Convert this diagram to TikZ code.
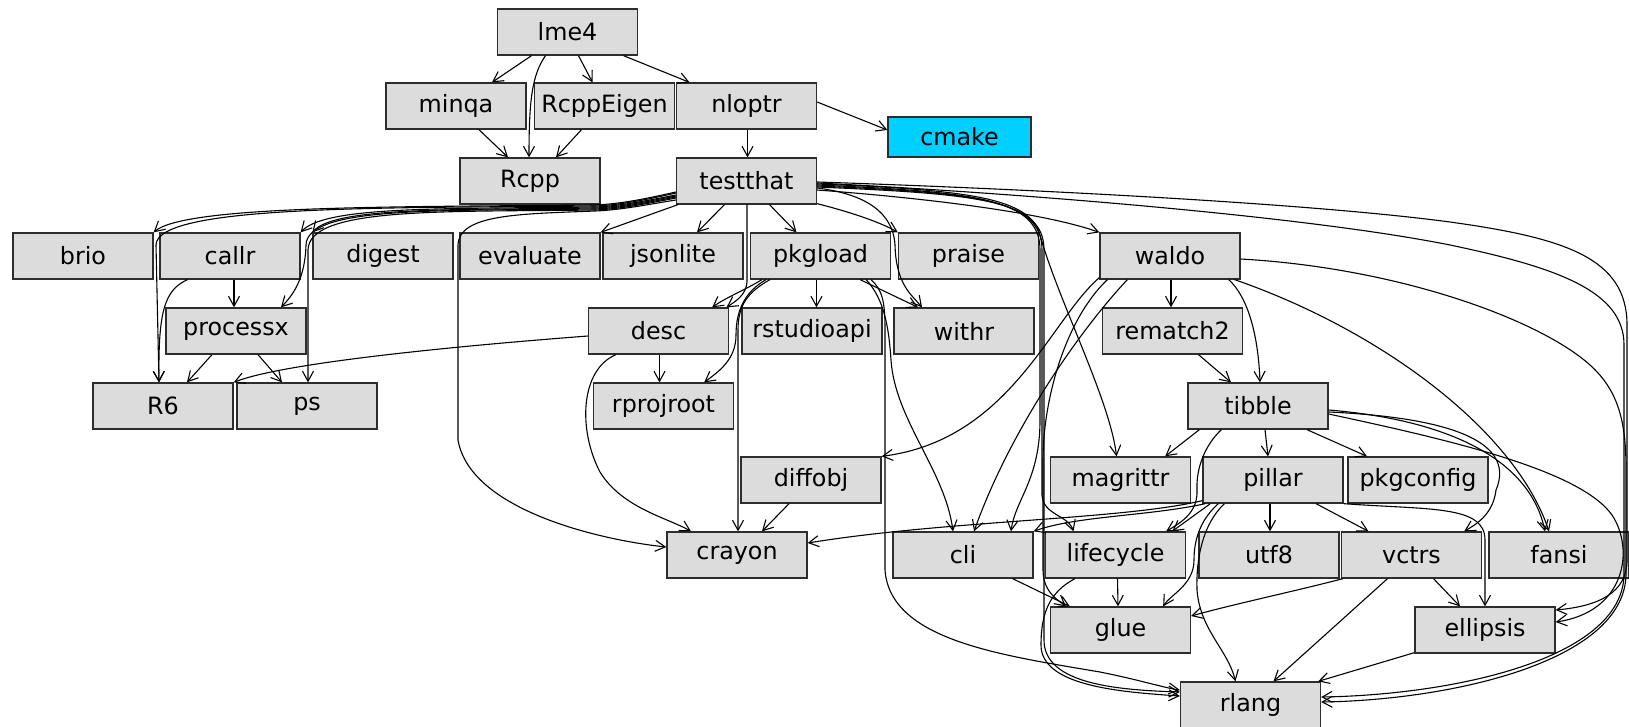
\documentclass[tikz,border=0pt]{standalone}
\usepackage{fontspec}
\setmainfont{DejaVu Sans}
\usetikzlibrary{arrows.meta,calc}
\definecolor{boxgray}{RGB}{220,220,220}
\definecolor{boxline}{RGB}{45,45,45}
\definecolor{cmakecyan}{RGB}{0,208,255}
\tikzset{
  pkg/.style={draw=boxline, fill=boxgray, line width=1.3pt, minimum width=140pt, minimum height=46pt, inner sep=0pt, font=\fontsize{23.8}{28}\selectfont},
  dep/.style={draw=black, line width=1.1pt, -{Straight Barb[length=10pt,width=11pt]}}
}
\begin{document}
\begin{tikzpicture}[x=1pt,y=-1pt]
\useasboundingbox (0,0) rectangle (1629,726);
% nodes
\node[pkg] (lme4) at (567.5,32) {lme4};
\node[pkg] (minqa) at (456,106) {minqa};
\node[pkg] (RcppEigen) at (604.5,106) {RcppEigen};
\node[pkg] (nloptr) at (746.5,106) {nloptr};
\node[pkg, fill=cmakecyan, minimum height=40pt, minimum width=143pt] (cmake) at (959.5,137) {cmake};
\node[pkg] (Rcpp) at (530,181) {Rcpp};
\node[pkg] (testthat) at (746.5,181) {testthat};
\node[pkg] (brio) at (83,256) {brio};
\node[pkg] (callr) at (230,256) {callr};
\node[pkg] (digest) at (383,256) {digest};
\node[pkg] (evaluate) at (530,256) {evaluate};
\node[pkg] (jsonlite) at (673,256) {jsonlite};
\node[pkg] (pkgload) at (820.5,256) {pkgload};
\node[pkg] (praise) at (968.5,256) {praise};
\node[pkg] (waldo) at (1170,256) {waldo};
\node[pkg] (processx) at (236,331) {processx};
\node[pkg] (desc) at (658.5,331) {desc};
\node[pkg] (rstudioapi) at (812,331) {rstudioapi};
\node[pkg] (withr) at (964,331) {withr};
\node[pkg] (rematch2) at (1172.5,331) {rematch2};
\node[pkg] (R6) at (163,406) {R6};
\node[pkg] (ps) at (307,406) {ps};
\node[pkg] (rprojroot) at (663.5,406) {rprojroot};
\node[pkg] (tibble) at (1258,406) {tibble};
\node[pkg] (diffobj) at (811,480) {diffobj};
\node[pkg] (magrittr) at (1120.5,480) {magrittr};
\node[pkg] (pillar) at (1273,480) {pillar};
\node[pkg] (pkgconfig) at (1418,480) {pkgconfig};
\node[pkg] (crayon) at (737,555) {crayon};
\node[pkg] (cli) at (963,555) {cli};
\node[pkg] (lifecycle) at (1115.5,555) {lifecycle};
\node[pkg] (utf8) at (1269,555) {utf8};
\node[pkg] (vctrs) at (1411.5,555) {vctrs};
\node[pkg] (fansi) at (1559,555) {fansi};
\node[pkg] (glue) at (1120.5,630) {glue};
\node[pkg] (ellipsis) at (1485,630) {ellipsis};
\node[pkg] (rlang) at (1250.5,705) {rlang};

% lme4 group
\draw[dep] ($(lme4.south)+(-36,0)$) -- ($(minqa.north)+(36,0)$);
\draw[dep] ($(lme4.south)+(11,0)$) -- ($(RcppEigen.north)+(-12,0)$);
\draw[dep] ($(lme4.south)+(56,0)$) -- ($(nloptr.north)+(-57,0)$);
\draw[dep] ($(lme4.south)+(-22,0)$) .. controls (532,75) and (529,100) .. ($(Rcpp.north)+(-1,0)$);
\draw[dep] ($(minqa.south)+(23,0)$) -- ($(Rcpp.north)+(-22,0)$);
\draw[dep] ($(RcppEigen.south)+(-23,0)$) -- ($(Rcpp.north)+(26,0)$);
\draw[dep] ($(nloptr.south)+(1,0)$) -- ($(testthat.north)+(1,0)$);
\draw[dep] ($(nloptr.east)+(0,-4)$) -- ($(cmake.west)+(0,-7)$);

% testthat, left side
\draw[dep] ($(testthat.west)+(0,11)$) .. controls (645,199) and (620,204) .. (595,205) .. controls (400,207) and (185,205) .. (brio.north east);
\draw[dep] ($(testthat.west)+(0,12)$) .. controls (645,200) and (620,205) .. (595,206) .. controls (380,208) and (157,205) .. (156,245) -- ($(R6.north)+(-4,0)$);
\draw[dep] ($(testthat.west)+(0,14)$) .. controls (645,201) and (620,206) .. (595,207) .. controls (440,209) and (325,206) .. (callr.north east);
\draw[dep] ($(testthat.west)+(0,15)$) .. controls (645,202) and (620,207) .. (595,208) .. controls (450,210) and (335,207) .. (digest.north west);
\draw[dep] ($(testthat.west)+(0,16)$) .. controls (645,203) and (620,208) .. (595,209) .. controls (440,211) and (307,206) .. (306,245) .. controls (305,280) and (292,296) .. ($(processx.north)+(45,0)$);
\draw[dep] ($(testthat.west)+(0,17)$) .. controls (645,204) and (620,209) .. (595,210) .. controls (440,212) and (309,207) .. (308,250) -- ($(ps.north)+(1,0)$);
\draw[dep] ($(testthat.west)+(0,19)$) .. controls (645,205) and (620,210) .. (595,211) .. controls (520,214) and (459,214) .. (458,245) -- (458,440) .. controls (470,510) and (600,540) .. ($(crayon.west)+(0,-8)$);
\draw[dep] ($(testthat.south west)+(2,0)$) -- (evaluate.north east);
\draw[dep] ($(testthat.south)+(-22,0)$) -- ($(jsonlite.north)+(24,0)$);
\draw[dep] ($(testthat.south)+(23,0)$) -- ($(pkgload.north)+(-24,0)$);
\draw[dep] ($(testthat.south)+(0.5,0)$) -- (747,282) .. controls (746,295) and (736,301) .. ($(desc.north)+(68,0)$);
% testthat, right side
\draw[dep] ($(testthat.south east)+(0,-1)$) .. controls (850,212) and (880,222) .. (praise.north west);
\draw[dep] ($(testthat.east)+(0,7)$) .. controls (865,194) and (893,212) .. (895,245) .. controls (896,285) and (912,295) .. ($(withr.north)+(-42,0)$);
\draw[dep] ($(testthat.east)+(0,9)$) .. controls (950,200) and (1050,215) .. (waldo.north west);
\draw[dep] ($(testthat.east)+(0,3)$) .. controls (970,190) and (1030,198) .. (1040,235) .. controls (1058,300) and (1110,400) .. ($(magrittr.north)+(-4,0)$);
\draw[dep] ($(testthat.east)+(0,4)$) .. controls (975,192) and (1040,198) .. (1040,250) -- (1040,420) .. controls (1040,480) and (1015,500) .. ($(cli.north)+(48,0)$);
\draw[dep] ($(testthat.east)+(0,5)$) .. controls (978,193) and (1042,199) .. (1042,250) -- (1042,495) .. controls (1043,515) and (1068,515) .. ($(lifecycle.north)+(-42,0)$);
\draw[dep] ($(testthat.east)+(0,6)$) .. controls (981,194) and (1044,200) .. (1044,250) -- (1044,640) .. controls (1044,685) and (1120,690) .. ($(rlang.west)+(0,-13)$);
\draw[dep] ($(testthat.east)+(0,1)$) .. controls (1000,188) and (1300,202) .. (1450,222) .. controls (1565,238) and (1627,258) .. (1627,325) -- (1627,560) .. controls (1627,592) and (1600,606) .. ($(ellipsis.east)+(0,-20)$);
\draw[dep] ($(testthat.east)+(0,2)$) .. controls (1000,192) and (1300,215) .. (1450,245) .. controls (1560,268) and (1624,292) .. (1624,345) -- (1624,575) .. controls (1622,660) and (1450,695) .. ($(rlang.east)+(0,-8)$);

% callr, processx
\draw[dep] ($(callr.south)+(4,0)$) -- ($(processx.north)+(-2,0)$);
\draw[dep] ($(callr.south west)+(28,0)$) .. controls (165,290) and (158,310) .. ($(R6.north)+(-4,0)$);
\draw[dep] ($(processx.south)+(-24,0)$) -- ($(R6.north)+(24,0)$);
\draw[dep] ($(processx.south)+(22,0)$) -- ($(ps.north)+(-25,0)$);

% desc
\draw[dep] ($(desc.west)+(0,5)$) .. controls (470,345) and (285,362) .. (R6.north east);
\draw[dep] ($(desc.south)+(1,0)$) -- ($(rprojroot.north)+(-4,0)$);
\draw[dep] ($(desc.south west)+(28,0)$) .. controls (580,370) and (578,430) .. (600,472) .. controls (622,508) and (668,518) .. ($(crayon.north)+(-46,0)$);

% pkgload
\draw[dep] ($(pkgload.south west)+(12,0)$) .. controls (745,290) and (725,298) .. ($(desc.north east)+(-17,0)$);
\draw[dep] ($(pkgload.south west)+(16,0)$) .. controls (745,292) and (736,310) .. (736,335) .. controls (736,360) and (718,372) .. ($(rprojroot.north east)+(-30,0)$);
\draw[dep] ($(pkgload.south west)+(20,0)$) .. controls (748,292) and (738,305) .. (738,330) -- ($(crayon.north)+(1,0)$);
\draw[dep] ($(pkgload.south)+(-4,0)$) -- ($(rstudioapi.north)+(4.5,0)$);
\draw[dep] ($(pkgload.south east)+(-31,0)$) -- ($(withr.north)+(-46,0)$);
\draw[dep] ($(pkgload.south east)+(-25,0)$) .. controls (885,300) and (889,330) .. (891,360) .. controls (895,420) and (945,470) .. ($(cli.north)+(-10,0)$);
\draw[dep] ($(pkgload.south east)+(-20,0)$) .. controls (882,290) and (885,300) .. (885,330) -- (885,570) .. controls (890,640) and (1000,655) .. (1100,672) .. controls (1140,680) and (1165,688) .. ($(rlang.west)+(0,-15)$);

% diffobj
\draw[dep] ($(diffobj.south)+(-22,0)$) -- ($(crayon.north)+(25,0)$);

% waldo
\draw[dep] ($(waldo.south)+(1,0)$) -- ($(rematch2.north)+(-1.5,0)$);
\draw[dep] ($(waldo.south east)+(-12,0)$) .. controls (1246,295) and (1258,330) .. ($(tibble.north)+(2,0)$);
\draw[dep] ($(waldo.south west)+(0,-2)$) .. controls (1050,320) and (1010,440) .. (diffobj.north east);
\draw[dep] ($(waldo.south west)+(28,0)$) .. controls (1080,330) and (1010,430) .. ($(cli.north)+(11,0)$);
\draw[dep] ($(waldo.south west)+(8,0)$) .. controls (1065,320) and (1043,400) .. (1043,460) -- (1043,570) .. controls (1043,592) and (1058,600) .. ($(glue.north west)+(16,0)$);
\draw[dep] ($(waldo.south east)+(-6,0)$) .. controls (1380,330) and (1515,430) .. ($(fansi.north)+(-10,0)$);
\draw[dep] ($(waldo.east)+(0,3)$) .. controls (1400,268) and (1540,320) .. (1590,365) .. controls (1620,392) and (1626,425) .. (1626,470) -- (1626,575) .. controls (1624,662) and (1450,700) .. ($(rlang.east)+(0,-3)$);

% rematch2
\draw[dep] ($(rematch2.south)+(26,0)$) -- ($(tibble.north)+(-27,0)$);

% tibble
\draw[dep] ($(tibble.south west)+(12,0)$) -- ($(magrittr.north east)+(-26,0)$);
\draw[dep] ($(tibble.south)+(7,0)$) -- ($(pillar.north)+(-5,0)$);
\draw[dep] ($(tibble.south)+(49,0)$) -- ($(pkgconfig.north)+(-51,0)$);
\draw[dep] ($(tibble.south west)+(34,0)$) .. controls (1205,445) and (1196,468) .. (1197,490) .. controls (1198,512) and (1182,522) .. ($(lifecycle.north east)+(-20,0)$);
\draw[dep] ($(tibble.east)+(0,4)$) .. controls (1450,420) and (1530,460) .. ($(fansi.north)+(-14,0)$);
\draw[dep] ($(tibble.east)+(0,6)$) .. controls (1460,418) and (1515,445) .. (1496,490) .. controls (1493,515) and (1475,525) .. ($(vctrs.north east)+(-18,0)$);
\draw[dep] ($(tibble.east)+(0,8)$) .. controls (1450,440) and (1580,470) .. (1612,515) .. controls (1635,550) and (1625,612) .. ($(ellipsis.east)+(0,-8)$);

% pillar
\draw[dep] ($(pillar.south west)+(0,-3)$) .. controls (1120,520) and (950,520) .. ($(crayon.east)+(0,-12)$);
\draw[dep] ($(pillar.south west)+(3,0)$) .. controls (1150,516) and (1075,516) .. (cli.north east);
\draw[dep] ($(pillar.south west)+(8,0)$) -- ($(lifecycle.north east)+(-14,0)$);
\draw[dep] ($(pillar.south west)+(16,0)$) .. controls (1200,520) and (1194,540) .. (1194,560) .. controls (1194,585) and (1170,595) .. ($(glue.north east)+(-28,0)$);
\draw[dep] ($(pillar.south west)+(22,0)$) .. controls (1202,525) and (1196,560) .. (1197,590) .. controls (1200,630) and (1228,650) .. ($(rlang.north)+(-15,0)$);
\draw[dep] ($(pillar.south)+(-3,0)$) -- ($(utf8.north)+(1,0)$);
\draw[dep] ($(pillar.south)+(43,0)$) -- ($(vctrs.north)+(-43,0)$);
\draw[dep] (pillar.south east) .. controls (1430,510) and (1485,505) .. (1485,540) -- (ellipsis.north);

% vctrs
\draw[dep] ($(vctrs.south west)+(2,0)$) .. controls (1300,590) and (1230,605) .. ($(glue.east)+(0,-14)$);
\draw[dep] ($(vctrs.south)+(-24,0)$) -- ($(rlang.north)+(23,0)$);
\draw[dep] ($(vctrs.south)+(22,0)$) -- ($(ellipsis.north)+(-25,0)$);

% lifecycle, cli, ellipsis
\draw[dep] ($(lifecycle.south)+(2,0)$) -- ($(glue.north)+(-2.5,0)$);
\draw[dep] ($(lifecycle.south west)+(30,0)$) .. controls (1050,592) and (1041,612) .. (1041,645) .. controls (1041,686) and (1120,692) .. ($(rlang.west)+(0,-9)$);
\draw[dep] ($(cli.south east)+(-21,0)$) -- ($(glue.north west)+(20,0)$);
\draw[dep] ($(ellipsis.south west)+(0,-1)$) -- ($(rlang.north east)+(-3,0)$);
\end{tikzpicture}
\end{document}
